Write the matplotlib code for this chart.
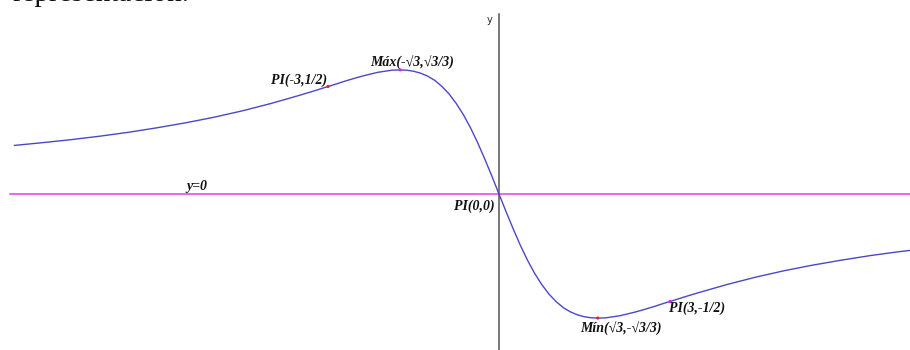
import matplotlib
matplotlib.use('Agg')
import matplotlib.pyplot as plt

# curve (x in units, y in units)
curve_x = [-8.5, -8.0, -7.5, -7.0, -6.5, -6.0, -5.5, -5.0, -4.5, -4.0, -3.75, -3.5, -3.25,
           -3.0, -2.875, -2.75, -2.625, -2.5, -2.375, -2.25, -2.125, -2.0, -1.875,
           -1.75, -1.625, -1.5, -1.375, -1.25, -1.125, -1.0, -0.875, -0.75, -0.625,
           -0.5, -0.375, -0.25, -0.125, 0.0,
           0.125, 0.25, 0.375, 0.5, 0.625, 0.75, 0.875, 1.0, 1.125, 1.25, 1.375,
           1.5, 1.625, 1.75, 1.875, 2.0, 2.125, 2.25, 2.375, 2.5, 2.625, 2.75, 2.875,
           3.0, 3.25, 3.5, 3.75, 4.0, 4.5, 5.0, 5.5, 6.0, 6.5, 7.0, 7.25]
curve_y = [0.226, 0.239, 0.253, 0.269, 0.287, 0.308, 0.331, 0.357, 0.387, 0.421, 0.440, 0.459, 0.479,
           0.500, 0.510, 0.521, 0.531, 0.541, 0.550, 0.558, 0.566, 0.571, 0.576,
           0.577, 0.576, 0.571, 0.562, 0.548, 0.528, 0.500, 0.465, 0.421, 0.369,
           0.308, 0.239, 0.163, 0.083, 0.0,
           -0.083, -0.163, -0.239, -0.308, -0.369, -0.421, -0.465, -0.500, -0.528, -0.548, -0.562,
           -0.571, -0.576, -0.577, -0.576, -0.571, -0.566, -0.558, -0.550, -0.541, -0.531, -0.521, -0.510,
           -0.500, -0.479, -0.459, -0.440, -0.421, -0.387, -0.357, -0.331, -0.308, -0.287, -0.269, -0.261]

# marked points
pts_x = [-3.0, -1.732, 1.732, 3.0]
pts_y = [0.5, 0.577, -0.577, -0.5]
pts_color = ['#e02020', '#e020e0', '#e02020', '#e020e0']

# labels
labels = ['PI(-3,1/2)', 'Máx(-√3,√3/3)', 'y=0', 'PI(0,0)', 'PI(3,-1/2)', 'Mín(√3,-√3/3)']
label_x = [-3.02, -2.26, -5.49, -0.07, 2.98, 1.42]
label_y = [0.530, 0.609, 0.033, -0.056, -0.530, -0.628]
label_ha = ['right', 'left', 'left', 'right', 'left', 'left']

W, H = 910, 350
x0, y0 = 499, 194        # origin in pixels
sx, sy = 57.0, 215.0     # pixels per unit

fig = plt.figure(figsize=(W / 100, H / 100), dpi=100)
ax = fig.add_axes([0, 0, 1, 1])
ax.set_xlim(-x0 / sx, (W - x0) / sx)
ax.set_ylim(-(H - y0) / sy, y0 / sy)
ax.axis('off')

# axis lines
ax.plot([(10 - x0) / sx, (W - x0) / sx], [0, 0], color='#e040e8', lw=1.1)
ax.plot([0, 0], [(y0 - 14) / sy, -(H - y0) / sy], color='#555555', lw=1.1)
ax.text(-0.158, (y0 - 20) / sy, 'y', fontsize=7, ha='center', va='center',
        family='DejaVu Sans', color='#222222')

ax.plot(curve_x, curve_y, color='#4a48c8', lw=1.0, solid_joinstyle='round')
ax.scatter(pts_x, pts_y, s=5, c=pts_color, zorder=3, linewidths=0)

for t, lx, ly, ha in zip(labels, label_x, label_y, label_ha):
    ax.text(lx, ly, t, fontsize=10, ha=ha, va='center', fontweight='bold',
            style='italic', family=['Liberation Serif', 'DejaVu Serif'], color='#111111')

# page text cut off at the top edge (only its lower part shows)
fig.text(12 / W, 1 - 1 / H, 'representación.', fontsize=21, ha='left', va='baseline',
         family='Liberation Serif', color='#111111')

fig.savefig('out.png', dpi=100)
